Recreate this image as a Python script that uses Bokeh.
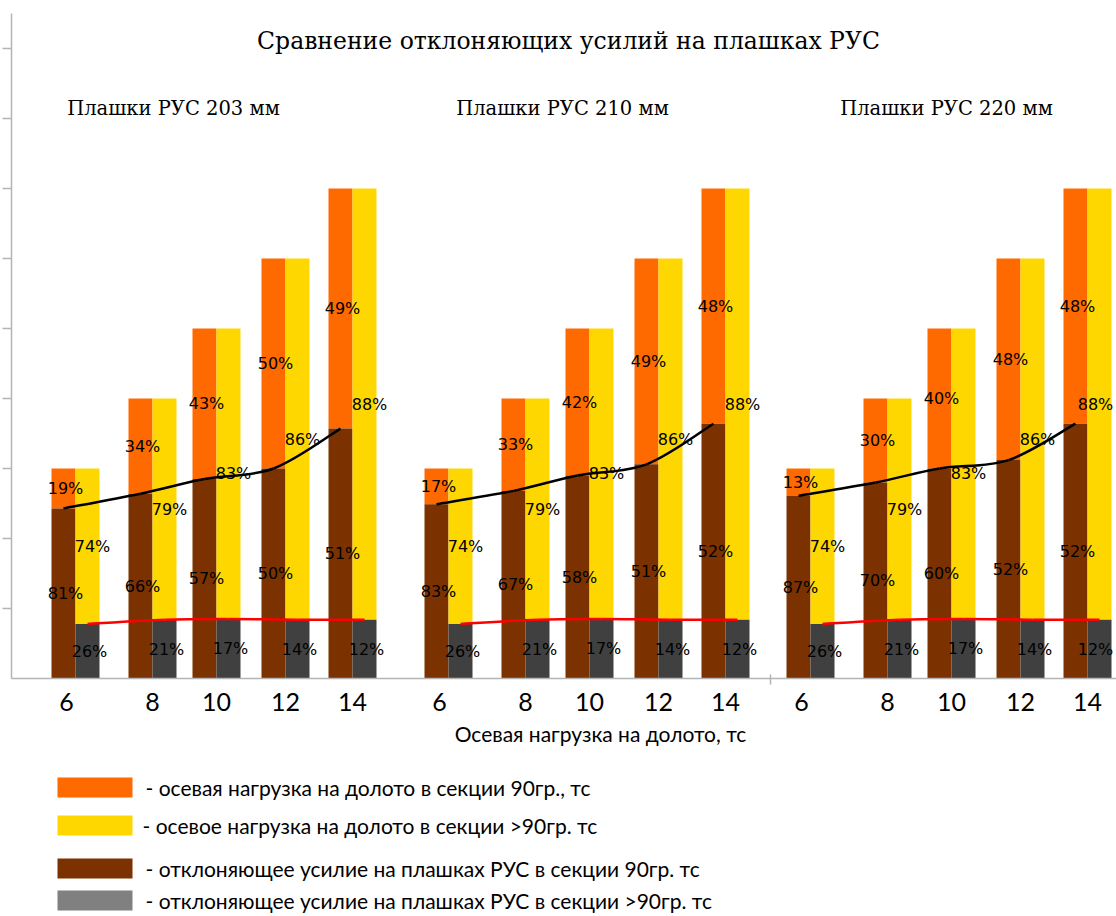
from bokeh.plotting import figure
from bokeh.models import Range1d, LinearAxis, FixedTicker, ColumnDataSource
from bokeh.core.properties import value
from bokeh.embed import file_html
from bokeh.resources import INLINE

# ---- data -------------------------------------------------------------
loads = [6, 8, 10, 12, 14]                      # axial load on the bit, tf
load_labels = ["6", "8", "10", "12", "14"]
panel_titles = ["Плашки РУС 203 мм", "Плашки РУС 210 мм", "Плашки РУС 220 мм"]

# section 90 deg: share of the load going to the deflecting force / remaining load, %
dev90_pct = [[81, 66, 57, 50, 51],
             [83, 67, 58, 51, 52],
             [87, 70, 60, 52, 52]]
load90_pct = [[19, 34, 43, 50, 49],
              [17, 33, 42, 49, 48],
              [13, 30, 40, 48, 48]]

# section >90 deg: share of the load going to the deflecting force / remaining load, %
dev_gt90_pct = [[26, 21, 17, 14, 12],
                [26, 21, 17, 14, 12],
                [26, 21, 17, 14, 12]]
load_gt90_pct = [[74, 79, 83, 86, 88],
                 [74, 79, 83, 86, 88],
                 [74, 79, 83, 86, 88]]

title_text = "Сравнение отклоняющих усилий на плашках РУС"
x_title = "Осевая нагрузка на долото, тс"
legend_labels = ["- осевая нагрузка на долото в секции 90гр., тс",
                 "- осевое нагрузка на долото в секции >90гр. тс",
                 "- отклоняющее усилие на плашках РУС в секции 90гр. тс",
                 "- отклоняющее усилие на плашках РУС в секции >90гр. тс"]

# ---- layout -----------------------------------------------------------
W, H = 1116, 916
BASE = 678.0            # screen row of the zero line
PPT = 35.0              # screen pixels per tonne
BAR_W = 24
PANEL_X = [75, 448, 810]            # pair split of the first group in each panel
SLOT_DX = [0, 77, 141, 210, 277]    # pair split offsets inside a panel
KEY_TOPS = [777, 815, 858, 890]     # legend rows (screen rows of swatch tops)

C_ORANGE = "#FF6A00"
C_YELLOW = "#FFD700"
C_BROWN = "#7B3200"
C_GRAY = "#404040"
C_GRAY_KEY = "#808080"
AXIS_C = "#B4B4B4"

SANS = "Lato"
SERIF = "DejaVu Serif"
PCT_FONT = "DejaVu Sans"


def yv(row):
    """Data value for a screen row (rows counted from the top)."""
    return (BASE - row) / PPT


p = figure(width=W, height=H, x_range=Range1d(0, W), y_range=Range1d(yv(H), yv(0)),
           x_axis_type=None, y_axis_type=None, output_backend="svg",
           toolbar_location=None, min_border=0, outline_line_color=None,
           background_fill_color="white", border_fill_color="white")

# ---- bars -------------------------------------------------------------
cols = {k: [] for k in ("x90", "xgt", "load", "dev90", "devgt")}
lab = {k: [] for k in ("x", "y", "t")}
curves = []
for pi in range(3):
    xs90, ys90, xsgt, ysgt = [], [], [], []
    for si, L in enumerate(loads):
        split = PANEL_X[pi] + SLOT_DX[si]
        d90 = L * dev90_pct[pi][si] / 100.0
        dgt = L * dev_gt90_pct[pi][si] / 100.0
        cols["x90"].append(split - BAR_W / 2)
        cols["xgt"].append(split + BAR_W / 2)
        cols["load"].append(L)
        cols["dev90"].append(d90)
        cols["devgt"].append(dgt)
        xs90.append(split - BAR_W / 2)
        ys90.append(d90)
        xsgt.append(split + BAR_W / 2)
        ysgt.append(dgt)
        # percentage labels in the middle of each segment, kept inside the canvas
        lab["x"] += [split - BAR_W / 2 + 2, split - BAR_W / 2 + 2,
                     min(split + BAR_W / 2 + 5, W - 21), min(split + BAR_W / 2 + 2, W - 21)]
        lab["y"] += [(d90 + L) / 2, d90 / 2, (dgt + L) / 2, dgt / 2]
        lab["t"] += [f"{load90_pct[pi][si]}%", f"{dev90_pct[pi][si]}%",
                     f"{load_gt90_pct[pi][si]}%", f"{dev_gt90_pct[pi][si]}%"]
    curves.append((xs90, ys90, xsgt, ysgt))

src = ColumnDataSource(cols)
p.vbar(x="x90", width=BAR_W, bottom="dev90", top="load", source=src,
       fill_color=C_ORANGE, line_color=None)
p.vbar(x="x90", width=BAR_W, bottom=0, top="dev90", source=src,
       fill_color=C_BROWN, line_color=None)
p.vbar(x="xgt", width=BAR_W, bottom="devgt", top="load", source=src,
       fill_color=C_YELLOW, line_color=None)
p.vbar(x="xgt", width=BAR_W, bottom=0, top="devgt", source=src,
       fill_color=C_GRAY, line_color=None)


def smooth(xs, ys):
    """Cubic Bezier pieces (Catmull-Rom style) through the given points."""
    n = len(xs)
    d = {k: [] for k in ("x0", "y0", "x1", "y1", "cx0", "cy0", "cx1", "cy1")}
    for i in range(n - 1):
        a, b = max(i - 1, 0), min(i + 2, n - 1)
        d["x0"].append(xs[i]); d["y0"].append(ys[i])
        d["x1"].append(xs[i + 1]); d["y1"].append(ys[i + 1])
        d["cx0"].append(xs[i] + (xs[i + 1] - xs[a]) / 6)
        d["cy0"].append(ys[i] + (ys[i + 1] - ys[a]) / 6)
        d["cx1"].append(xs[i + 1] - (xs[b] - xs[i]) / 6)
        d["cy1"].append(ys[i + 1] - (ys[b] - ys[i]) / 6)
    return d


for xs90, ys90, xsgt, ysgt in curves:
    p.bezier(source=ColumnDataSource(smooth(xs90, ys90)), line_color="black", line_width=2.5)
    p.bezier(source=ColumnDataSource(smooth(xsgt, ysgt)), line_color="#FF0000", line_width=2.5)

p.text(x="x", y="y", text="t", source=ColumnDataSource(lab),
       text_font=value(PCT_FONT), text_font_size="16px", text_color="black",
       text_align="center", text_baseline="middle")

# ---- axes -------------------------------------------------------------
y_ticks = [2, 4, 6, 8, 10, 12, 14, 16, 18]
yax = LinearAxis(fixed_location=11, ticker=FixedTicker(ticks=y_ticks), bounds=(0, yv(13)),
                 major_tick_out=9, major_tick_in=0, minor_tick_out=0, minor_tick_in=0,
                 major_label_overrides={t: "" for t in y_ticks},
                 axis_line_color=AXIS_C, axis_line_width=1.5,
                 major_tick_line_color=AXIS_C, major_tick_line_width=1.5)
p.add_layout(yax, "left")

x_ticks, x_over = [], {}
for pi in range(3):
    for si, t in enumerate(load_labels):
        pos = PANEL_X[pi] + SLOT_DX[si] - (9 if si == 0 else 0)
        x_ticks.append(pos)
        x_over[pos] = t
xax = LinearAxis(fixed_location=0, ticker=FixedTicker(ticks=x_ticks), bounds=(11, W),
                 major_label_overrides=x_over, major_tick_out=0, major_tick_in=0,
                 minor_tick_out=0, minor_tick_in=0,
                 major_label_text_font=SANS, major_label_text_font_size="25px",
                 major_label_text_color="black", major_label_standoff=14,
                 axis_line_color=AXIS_C, axis_line_width=1.5)
p.add_layout(xax, "below")
# group separator before the third panel
p.segment(x0=[770], y0=[yv(674)], x1=[770], y1=[yv(684)], line_color=AXIS_C, line_width=1.5)

# ---- titles -----------------------------------------------------------
p.text(x=[568], y=[yv(40)], text=[title_text], text_font=value(SERIF),
       text_font_size="23.5px", text_align="center", text_baseline="middle", text_color="black")
p.text(x=[173, 562, 946], y=[yv(108)] * 3, text=panel_titles, text_font=value(SERIF),
       text_font_size="19.5px", text_align="center", text_baseline="middle", text_color="black")
p.text(x=[600], y=[yv(733)], text=[x_title], text_font=value(SANS),
       text_font_size="21px", text_align="center", text_baseline="middle", text_color="black")

# ---- legend -----------------------------------------------------------
key_colors = [C_ORANGE, C_YELLOW, C_BROWN, C_GRAY_KEY]
p.quad(left=[57] * 4, right=[132] * 4,
       top=[yv(t) for t in KEY_TOPS], bottom=[yv(t + 20) for t in KEY_TOPS],
       fill_color=key_colors, line_color=None)
p.text(x=[145, 142, 145, 145], y=[yv(t + 10) for t in KEY_TOPS], text=legend_labels,
       text_font=value(SANS), text_font_size="21px", text_color="black",
       text_align="left", text_baseline="middle")

open("out.html", "w").write(file_html(p, INLINE))
